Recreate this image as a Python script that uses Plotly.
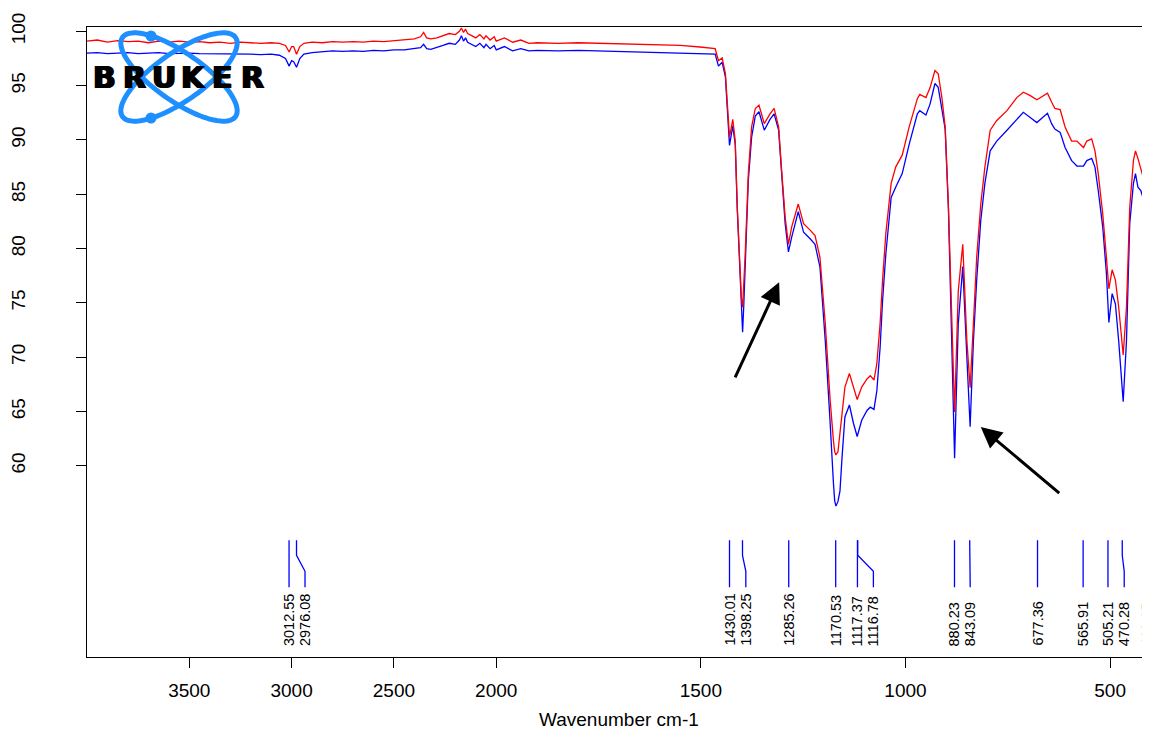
import numpy as np
import plotly.graph_objects as go

# ---------------- data ----------------
wavenumber = [
    4000, 3950, 3900, 3850, 3800, 3750, 3700, 3650, 3600, 3550, 3500, 3450, 3400, 3350,
    3300, 3250, 3200, 3150, 3100, 3060, 3030, 3012, 3000, 2990, 2976, 2960, 2940, 2900,
    2850, 2800, 2750, 2700, 2650, 2600, 2550, 2500, 2450, 2400, 2370, 2355, 2340, 2320,
    2290, 2260, 2230, 2200, 2180, 2170, 2160, 2150, 2140, 2120, 2100, 2080, 2060, 2050,
    2030, 2010, 2000, 1980, 1960, 1940, 1920, 1900, 1850, 1800, 1750, 1700, 1650, 1600,
    1550, 1502, 1465, 1457, 1448, 1440, 1436, 1430, 1422, 1416, 1411, 1404, 1401, 1398,
    1395, 1392,
    1384, 1376, 1367, 1358, 1345, 1331, 1321, 1310, 1302, 1294, 1286, 1278, 1262, 1249,
    1233, 1221, 1209, 1196, 1184, 1180, 1176, 1173, 1170, 1165, 1160, 1155, 1148, 1137,
    1127, 1118, 1107, 1094,
    1086, 1077, 1070, 1062, 1056, 1048, 1035, 1024, 1008, 991, 971, 965, 950, 940,
    928, 920, 911, 903, 895, 887, 880, 871, 860, 850, 842, 834, 826, 816,
    806, 793, 777, 752, 728, 712, 696, 679, 667, 653, 643, 635, 622, 610,
    594, 581, 565, 557, 545, 537, 529, 518, 509, 503, 495, 487, 479, 468,
    460, 452, 443, 438, 432, 425, 415, 409, 401,
]
red_T = [
    99.1, 99.2, 99.0, 99.15, 99.05, 99.1, 98.95, 99.1, 99.0, 99.1, 99.0, 99.05, 98.95, 99.0,
    98.9, 99.0, 98.95, 98.9, 98.95, 98.9, 98.7, 98.1, 98.6, 98.6, 97.9, 98.6, 98.9, 99.0,
    98.95, 99.05, 99.0, 99.05, 99.0, 99.1, 99.05, 99.15, 99.2, 99.3, 99.5, 99.9, 99.4, 99.3,
    99.4, 99.6, 99.8, 99.7, 100.0, 100.3, 99.9, 100.2, 99.8, 99.6, 99.4, 99.7, 99.3, 99.6,
    99.2, 99.5, 99.1, 99.4, 99.0, 99.2, 98.9, 98.95, 98.9, 98.95, 98.9, 98.85, 98.8, 98.8,
    98.7, 98.56, 98.4, 97.3, 97.55, 96.1, 93.3, 90.25, 91.9, 89.9, 83.8, 77.7, 75.5, 74.6,
    76.45, 79.2,
    86.9, 91.2, 92.9, 93.2, 91.5, 92.4, 92.9, 91.2, 86.9, 82.9, 80.4, 82.0, 84.1, 82.3,
    81.7, 81.2, 79.2, 73.1, 66.0, 63.9, 62.3, 61.3, 61.0, 61.3, 63.0, 64.8, 67.25, 68.5,
    67.25, 66.1, 67.25, 68.0,
    68.3, 67.9, 69.4, 73.1, 77.1, 81.4, 86.0, 87.5, 88.6, 91.2, 93.8, 94.2, 93.9, 94.8,
    96.4, 96.1, 93.9, 91.2, 83.8, 73.1, 64.95, 76.1, 80.4, 71.5, 67.2, 73.1, 79.2, 84.1,
    87.5, 90.9, 91.8, 92.7, 93.9, 94.4, 94.1, 93.7, 94.0, 94.3, 93.5, 92.9, 92.8, 91.2,
    89.9, 89.9, 89.3, 89.9, 90.1, 89.0, 86.9, 83.2, 79.2, 76.3, 78.05, 77.1, 74.6, 70.2,
    74.6, 83.8, 88.1, 89.0, 88.3, 87.3, 86.0, 85.65, 86.1,
]
blue_T = [
    98.0, 98.05, 97.95, 98.0, 98.05, 97.95, 98.0, 98.05, 97.95, 98.0, 98.0, 97.95, 97.95, 97.9,
    97.95, 97.9, 97.9, 97.85, 97.9, 97.8, 97.5, 96.8, 97.3, 97.2, 96.7, 97.5, 97.9, 98.05,
    98.1, 98.2, 98.15, 98.2, 98.15, 98.25, 98.2, 98.3, 98.3, 98.4, 98.5, 98.8, 98.4, 98.35,
    98.5, 98.7, 98.9, 98.8, 99.2, 99.6, 99.1, 99.4, 99.0, 98.8, 98.6, 98.9, 98.5, 98.8,
    98.4, 98.7, 98.3, 98.6, 98.2, 98.4, 98.2, 98.25, 98.2, 98.25, 98.2, 98.2, 98.15, 98.1,
    98.05, 98.0, 97.9, 96.8, 97.15, 95.8, 93.0, 89.5, 91.3, 89.6, 83.6, 77.1, 74.6, 72.3,
    74.9, 78.3,
    86.3, 90.25, 92.2, 92.6, 90.9, 91.9, 92.4, 90.9, 86.6, 82.3, 79.7, 81.05, 83.4, 81.5,
    80.9, 80.4, 78.3, 71.5, 63.9, 60.5, 58.4, 56.8, 56.3, 56.7, 57.7, 60.8, 64.5, 65.6,
    63.9, 62.7, 64.2, 65.1,
    65.4, 65.2, 66.9, 70.9, 75.2, 79.5, 84.7, 85.65, 86.9, 89.6, 92.4, 92.7, 92.3, 93.3,
    95.2, 94.85, 93.0, 91.0, 83.6, 72.5, 60.7, 73.1, 78.35, 70.0, 63.6, 71.5, 77.1, 82.6,
    86.0, 89.0, 89.9, 90.9, 91.9, 92.55, 92.1, 91.6, 92.0, 92.45, 91.5, 91.0, 90.7, 89.3,
    88.1, 87.6, 87.6, 88.1, 88.3, 87.5, 85.35, 82.0, 77.7, 73.2, 75.85, 74.9, 71.5, 65.9,
    71.5, 82.3, 86.0, 86.9, 85.65, 85.35, 84.1, 83.5, 84.0,
]

peak_wn = [3012.55, 2976.08, 1430.01, 1398.25, 1285.26, 1170.53, 1117.37, 1116.78,
           880.23, 843.09, 677.36, 565.91, 505.21, 470.28, 411.15]
peak_labels = ["3012.55", "2976.08", "1430.01", "1398.25", "1285.26", "1170.53", "1117.37",
               "1116.78", "880.23", "843.09", "677.36", "565.91", "505.21", "470.28", "411.15"]
label_wn = [3012.55, 2934.5, 1430.01, 1390.1, 1285.26, 1170.53, 1117.37, 1078.4,
            880.23, 841.8, 677.36, 565.91, 505.21, 465.5, 411.15]

x_ticks_wn = [3500, 3000, 2500, 2000, 1500, 1000, 500]
y_ticks = [60, 65, 70, 75, 80, 85, 90, 95, 100]


# ---------------- helpers ----------------
def to_u(wn):
    """Split wavenumber scale: 2x compression above 2000 cm-1."""
    wn = np.asarray(wn, dtype=float)
    return np.where(wn <= 2000, wn, 2000 + (wn - 2000) / 2.0)


# the page body has an 8px margin: figure origin sits at (8, 8) on screen
OFF = 8
SW, SH = 1150, 729                # screen size
L, R, T, B = 87, 1150, 27, 657    # plot area in screen pixels
W, H = SW - OFF, SH - OFF


def px(xp):
    return (xp - L) / (R - L)


def py(yp):
    return (B - yp) / (B - T)


fig = go.Figure()

fig.add_trace(go.Scatter(x=to_u(wavenumber), y=blue_T, mode="lines",
                         line=dict(color="#0000FF", width=1.3), showlegend=False,
                         hoverinfo="skip"))
fig.add_trace(go.Scatter(x=to_u(wavenumber), y=red_T, mode="lines",
                         line=dict(color="#FF0000", width=1.3), showlegend=False,
                         hoverinfo="skip"))

# peak marker lines (top at peak, bottom at label position)
ya, yb, yc, yd = 53.15, 51.76, 50.29, 48.82
seg_x, seg_y = [], []
for p, lw in zip(to_u(peak_wn), to_u(label_wn)):
    seg_x += [p, p, lw, lw, None]
    seg_y += [ya, yb, yc, yd, None]
fig.add_trace(go.Scatter(x=seg_x, y=seg_y, mode="lines",
                         line=dict(color="#0000FF", width=1.3), showlegend=False,
                         hoverinfo="skip", cliponaxis=False))

annotations = []
for lw, lab in zip(to_u(label_wn), peak_labels):
    annotations.append(dict(x=float(lw), y=py(648), xref="x", yref="paper", text=lab,
                            textangle=-90, showarrow=False, xanchor="center",
                            yanchor="bottom",
                            font=dict(family="Liberation Sans, Arial", size=14.5,
                                      color="black")))

# arrows
for tip_wn, tip_T, ax, ay in [(1308.7, 76.9, -44.7, 96.6), (816.1, 63.57, 80.0, 67.3)]:
    annotations.append(dict(x=float(to_u([tip_wn])[0]), y=tip_T, xref="x", yref="y",
                            text="", showarrow=True, arrowhead=2, arrowsize=1.4,
                            arrowwidth=3, arrowcolor="black", ax=ax, ay=ay,
                            standoff=0))

# x-axis title
annotations.append(dict(x=0.5, y=py(719), xref="paper", yref="paper",
                        text="Wavenumber cm-1", showarrow=False, xanchor="center",
                        yanchor="middle",
                        font=dict(family="Liberation Sans, Arial", size=19, color="black")))

# BRUKER logo letters
letters = "BRUKER"
lx0, lx1 = 90, 267
step = (lx1 - lx0) / len(letters)
for i, ch in enumerate(letters):
    annotations.append(dict(x=px(lx0 + step * (i + 0.5)), y=py(77.5), xref="paper",
                            yref="paper", text=f"<b>{ch}</b>", showarrow=False,
                            xanchor="center", yanchor="middle",
                            font=dict(family="DejaVu Sans", size=30, color="black",
                                      shadow="1px 0px 0px black, -1px 0px 0px black")))

# logo orbits
shapes = []
cx, cy, a, b = 179.0, 77.0, 69.0, 24.0
t = np.linspace(0, 2 * np.pi, 120)
for th_deg in (35, -35):
    th = np.radians(th_deg)
    xs = cx + a * np.cos(t) * np.cos(th) - b * np.sin(t) * np.sin(th)
    ys = cy + a * np.cos(t) * np.sin(th) + b * np.sin(t) * np.cos(th)
    path = "M " + " L ".join(f"{px(x):.5f},{py(y):.5f}" for x, y in zip(xs, ys)) + " Z"
    shapes.append(dict(type="path", path=path, xref="paper", yref="paper",
                       line=dict(color="#1E8FFF", width=5), layer="above"))
for dx, dy in [(151, 36), (151, 118)]:
    r = 5.5
    shapes.append(dict(type="circle", xref="paper", yref="paper",
                       x0=px(dx - r), x1=px(dx + r), y0=py(dy + r), y1=py(dy - r),
                       fillcolor="#1E8FFF", line=dict(color="#1E8FFF", width=0),
                       layer="above"))

font_main = dict(family="Liberation Sans, Arial", size=19, color="black")

fig.update_layout(
    width=W, height=H,
    margin=dict(l=L - OFF, r=SW - R, t=T - OFF, b=SH - B, pad=0, autoexpand=False),
    paper_bgcolor="white", plot_bgcolor="white",
    showlegend=False,
    annotations=annotations,
    shapes=shapes,
    xaxis=dict(
        range=[3000, 402.5],
        tickmode="array",
        tickvals=[float(v) for v in to_u(x_ticks_wn)],
        ticktext=[str(v) for v in x_ticks_wn],
        ticks="outside", ticklen=10, tickcolor="black", tickwidth=1,
        showline=True, linecolor="black", linewidth=1, mirror=True,
        showgrid=False, zeroline=False,
        tickfont=font_main,
        ticklabelstandoff=6,
        automargin=False,
    ),
    yaxis=dict(
        range=[42.4, 100.4],
        tickmode="array", tickvals=y_ticks, ticktext=[str(v) for v in y_ticks],
        tickangle=-90,
        ticks="outside", ticklen=10, tickcolor="black", tickwidth=1,
        showline=True, linecolor="black", linewidth=1, mirror=False,
        showgrid=False, zeroline=False,
        tickfont=font_main,
        ticklabelstandoff=43,
        automargin=False,
    ),
)

fig.write_html("out.html")
